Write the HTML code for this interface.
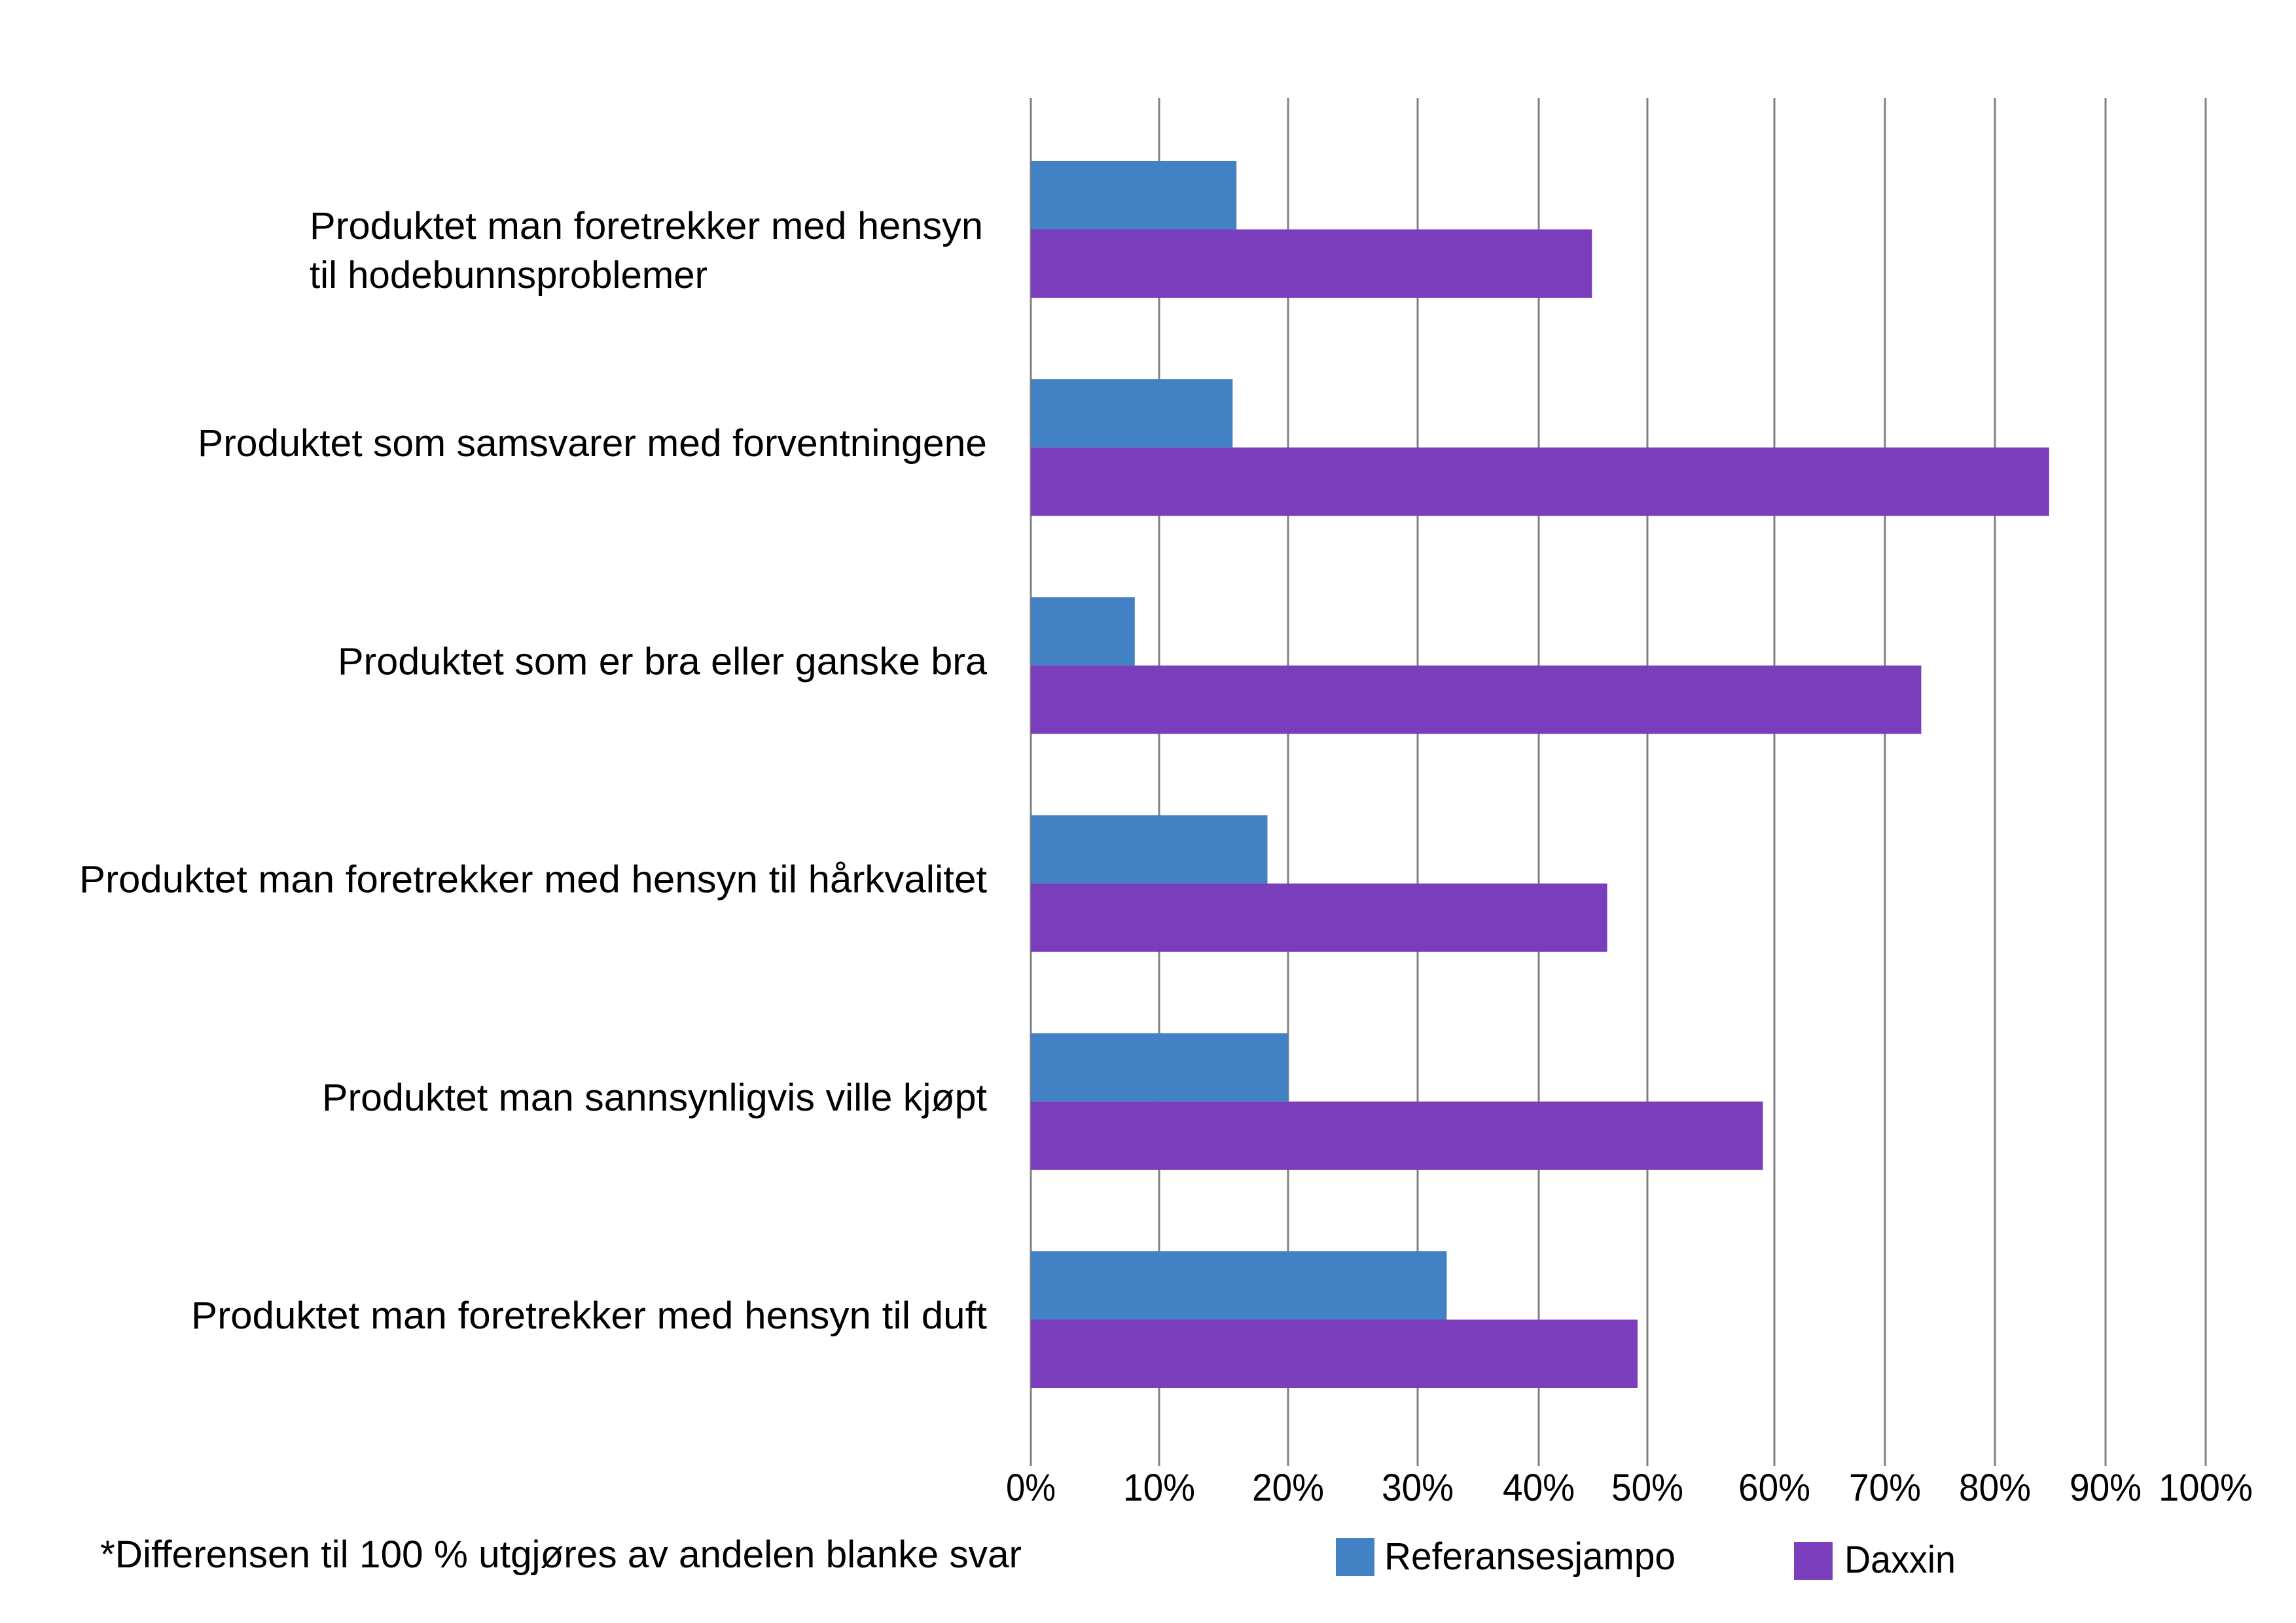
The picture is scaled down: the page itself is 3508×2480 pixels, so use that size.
<!DOCTYPE html>
<html><head><meta charset="utf-8"><style>
html,body{margin:0;padding:0;background:#fff;width:3508px;height:2480px;overflow:hidden}
svg{display:block}
text{font-family:"Liberation Sans",sans-serif;fill:#000}
</style></head><body>
<svg id="chart" width="3508" height="2480" viewBox="0 0 3508 2480" xmlns="http://www.w3.org/2000/svg">
<g id="grid"></g>
<g id="bars"></g>
<g id="labels"></g>
<g id="ticks"></g>
<text x="153" y="2395" font-size="58" textLength="1408" lengthAdjust="spacingAndGlyphs">*Differensen til 100 % utgjøres av andelen blanke svar</text>
<g>
<rect x="2041" y="2350" width="59" height="58" fill="#4282C4"/>
<text x="2115" y="2398" font-size="58" textLength="445" lengthAdjust="spacingAndGlyphs">Referansesjampo</text>
<rect x="2741" y="2356" width="59" height="58" fill="#7A3DBC"/>
<text x="2818" y="2403" font-size="58" textLength="170" lengthAdjust="spacingAndGlyphs">Daxxin</text>
</g>
</svg>
<script>
const categories = [
  ["Produktet man foretrekker med hensyn", "til hodebunnsproblemer"],
  ["Produktet som samsvarer med forventningene"],
  ["Produktet som er bra eller ganske bra"],
  ["Produktet man foretrekker med hensyn til hårkvalitet"],
  ["Produktet man sannsynligvis ville kjøpt"],
  ["Produktet man foretrekker med hensyn til duft"]
];
const referanseValues = [16.0, 15.7, 8.1, 18.4, 20.0, 32.4];
const daxxinValues = [44.9, 84.9, 73.3, 46.3, 59.1, 49.1];
const tickValues = [0, 10, 20, 30, 40, 50, 60, 70, 80, 90, 100];
const tickLabels = ["0%", "10%", "20%", "30%", "40%", "50%", "60%", "70%", "80%", "90%", "100%"];

// layout (grid in reference is unevenly spaced)
const gridPx = [1575, 1771, 1968, 2166, 2351, 2517, 2711, 2880, 3048, 3217, 3370];
const NS = "http://www.w3.org/2000/svg";
function x(v) {
  for (let i = 0; i < tickValues.length - 1; i++) {
    if (v <= tickValues[i + 1] || i === tickValues.length - 2) {
      const t = (v - tickValues[i]) / (tickValues[i + 1] - tickValues[i]);
      return gridPx[i] + t * (gridPx[i + 1] - gridPx[i]);
    }
  }
}
const groupTop0 = 246, pitch = 333.2, barH = 104.5;
function y(i) { return groupTop0 + i * pitch; }
function mk(tag, attrs, parent) {
  const el = document.createElementNS(NS, tag);
  for (const k in attrs) el.setAttribute(k, attrs[k]);
  parent.appendChild(el);
  return el;
}
const grid = document.getElementById('grid');
const ticks = document.getElementById('ticks');
tickValues.forEach((v, i) => {
  const gx = x(v);
  const ln = mk('line', {x1: gx, x2: gx, y1: 150, y2: 2240, stroke: '#808080', 'stroke-width': 3}, grid);
  
  
  const t = mk('text', {x: gx, y: 2293, 'font-size': 58, 'text-anchor': 'middle', textLength: 34 * tickLabels[i].length + 8, lengthAdjust: 'spacingAndGlyphs'}, ticks);
  t.textContent = tickLabels[i];
  
  
});
const bars = document.getElementById('bars');
const labels = document.getElementById('labels');
const labelWidths = [[1029, 608], [1206], [992], [1387], [1016], [1216]];
categories.forEach((c, i) => {
  const b = mk('rect', {x: x(0), y: y(i), width: x(referanseValues[i]) - x(0), height: barH, fill: '#4282C4'}, bars);
  
  
  const p = mk('rect', {x: x(0), y: y(i) + barH, width: x(daxxinValues[i]) - x(0), height: barH, fill: '#7A3DBC'}, bars);
  
  
  if (c.length === 2) {
    const t1 = mk('text', {x: 473, y: y(i) + 119, 'font-size': 58, textLength: labelWidths[i][0], lengthAdjust: 'spacingAndGlyphs'}, labels);
    t1.textContent = c[0];
    
    
    const t2 = mk('text', {x: 473, y: y(i) + 194, 'font-size': 58, textLength: labelWidths[i][1], lengthAdjust: 'spacingAndGlyphs'}, labels);
    t2.textContent = c[1];
    
    
  } else {
    const t = mk('text', {x: 1508, y: y(i) + 118, 'font-size': 58, 'text-anchor': 'end', textLength: labelWidths[i][0], lengthAdjust: 'spacingAndGlyphs'}, labels);
    t.textContent = c[0];
    
    
  }
});
</script>
</body></html>
